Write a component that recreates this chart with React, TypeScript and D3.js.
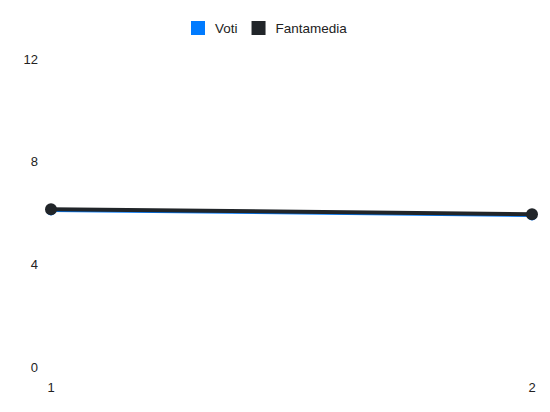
import * as d3 from "d3";
import { useEffect, useRef } from "react";

const giornate = [1, 2];
const voti = [6.1, 5.9];
const fantamedia = [6.15, 5.95];
const yTicks = [0, 4, 8, 12];
const series = [
  { name: "Voti", color: "#007bff", values: voti, width: 3, r: 5 },
  { name: "Fantamedia", color: "#212529", values: fantamedia, width: 4, r: 6 },
];

export default function App() {
  const ref = useRef<SVGSVGElement>(null);

  useEffect(() => {
    const svg = d3.select(ref.current);
    svg.selectAll("*").remove();

    const x = d3.scaleLinear().domain([1, 2]).range([51, 532]);
    const y = d3.scaleLinear().domain([0, 12]).range([367, 59]);
    const font = "'Liberation Sans', Arial, sans-serif";

    // y tick labels
    svg
      .append("g")
      .selectAll("text")
      .data(yTicks)
      .enter()
      .append("text")
      .attr("x", 38)
      .attr("y", (d) => y(d))
      .attr("dy", "0.35em")
      .attr("text-anchor", "end")
      .attr("font-family", font)
      .attr("font-size", 13)
      .attr("fill", "#222")
      .text((d) => d);

    // x tick labels
    svg
      .append("g")
      .selectAll("text")
      .data(giornate)
      .enter()
      .append("text")
      .attr("x", (d) => x(d))
      .attr("y", 387)
      .attr("dy", "0.35em")
      .attr("text-anchor", "middle")
      .attr("font-family", font)
      .attr("font-size", 13)
      .attr("fill", "#222")
      .text((d) => d);

    // lines
    series.forEach((s) => {
      const pts = giornate.map((g, i) => [g, s.values[i]] as [number, number]);
      svg
        .append("path")
        .datum(pts)
        .attr("fill", "none")
        .attr("stroke", s.color)
        .attr("stroke-width", s.width)
        .attr(
          "d",
          d3
            .line()
            .x((d) => x(d[0]))
            .y((d) => y(d[1]))
        );
      svg
        .append("g")
        .selectAll("circle")
        .data(pts)
        .enter()
        .append("circle")
        .attr("cx", (d) => x(d[0]))
        .attr("cy", (d) => y(d[1]))
        .attr("r", s.r)
        .attr("fill", s.color);
    });

    // legend
    const legend = svg.append("g");
    let lx = 191;
    series.forEach((s) => {
      legend
        .append("rect")
        .attr("x", lx)
        .attr("y", 21)
        .attr("width", 14)
        .attr("height", 14)
        .attr("fill", s.color);
      const t = legend
        .append("text")
        .attr("x", lx + 24)
        .attr("y", 28)
        .attr("dy", "0.35em")
        .attr("font-family", font)
        .attr("font-size", 13.5)
        .attr("fill", "#222")
        .text(s.name);
      const w = (t.node() as SVGTextElement).getComputedTextLength();
      lx += 24 + w + 14;
    });
  });

  return (
    <svg
      ref={ref}
      width={550}
      height={412}
      style={{ position: "absolute", left: 0, top: 0 }}
    ></svg>
  );
}
